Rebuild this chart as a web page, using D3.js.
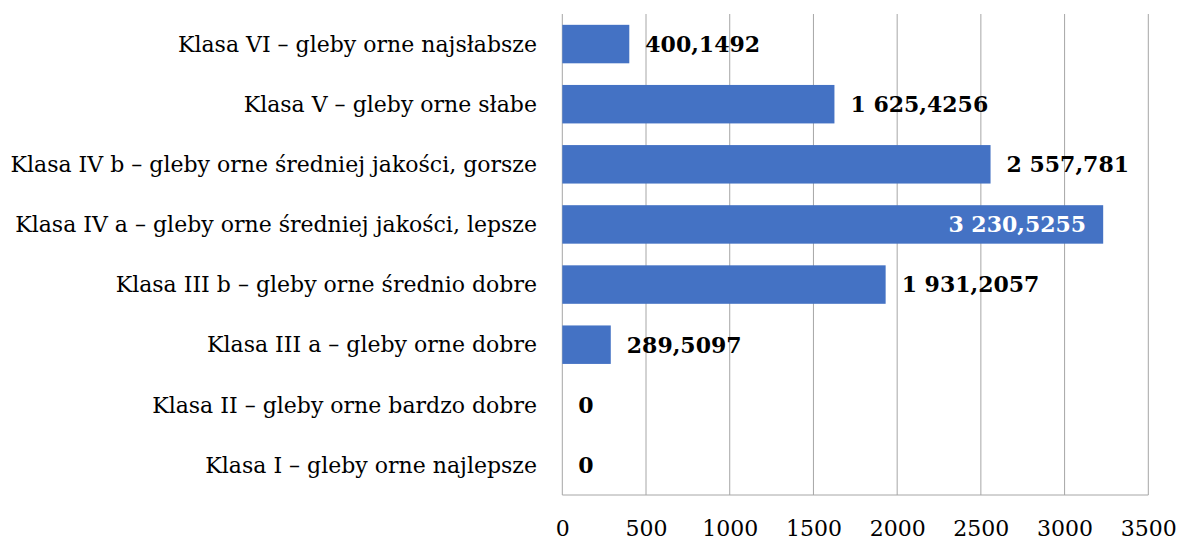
<!DOCTYPE html>
<html lang="pl">
<head>
  <meta charset="UTF-8">
  <title>Klasy gleb ornych</title>
  <script src="https://d3js.org/d3.v7.min.js"></script>
  <style>
    body { margin: 0; background: #fff; }
    text { font-family: "DejaVu Serif", serif; }
  </style>
</head>
<body>
  <svg width="1180" height="541"></svg>

  <script>
    // Klasy bonitacyjne (od góry do dołu, jak na wykresie)
    const categories = [
      "Klasa VI – gleby orne najsłabsze",
      "Klasa V – gleby orne słabe",
      "Klasa IV b – gleby orne średniej jakości, gorsze",
      "Klasa IV a – gleby orne średniej jakości, lepsze",
      "Klasa III b – gleby orne średnio dobre",
      "Klasa III a – gleby orne dobre",
      "Klasa II – gleby orne bardzo dobre",
      "Klasa I – gleby orne najlepsze"
    ];
    const values = [400.1492, 1625.4256, 2557.781, 3230.5255, 1931.2057, 289.5097, 0, 0];
    const xTicks = [0, 500, 1000, 1500, 2000, 2500, 3000, 3500];

    const svg = d3.select("svg");
    const plotLeft = 562.3, plotRight = 1148.3, plotTop = 14, plotBottom = 495;

    const x = d3.scaleLinear().domain([0, 3500]).range([plotLeft, plotRight]);
    const y = d3.scaleBand().domain(categories).range([plotTop, plotBottom]).paddingInner(0.36).paddingOuter(0.18);

    const pl = d3.formatLocale({ decimal: ",", thousands: " ", grouping: [3], currency: ["", " zł"] });
    const fmt = pl.format(",.4~f");

    // siatka
    svg.append("g")
      .selectAll("line")
      .data(xTicks)
      .join("line")
        .attr("x1", d => x(d)).attr("x2", d => x(d))
        .attr("y1", plotTop).attr("y2", plotBottom)
        .attr("stroke", "#a6a6a6")
        .attr("stroke-width", 1);

    // oś dolna
    svg.append("line")
      .attr("x1", plotLeft).attr("x2", plotRight)
      .attr("y1", plotBottom).attr("y2", plotBottom)
      .attr("stroke", "#a6a6a6");

    // słupki
    svg.append("g")
      .selectAll("rect")
      .data(values)
      .join("rect")
        .attr("x", x(0))
        .attr("y", (d, i) => y(categories[i]))
        .attr("width", d => x(d) - x(0))
        .attr("height", y.bandwidth())
        .attr("fill", "#4472c4");

    // oś x - etykiety
    const xAxis = d3.axisBottom(x).tickValues(xTicks).tickSize(0).tickPadding(0).tickFormat(d3.format("d"));
    const gx = svg.append("g").attr("transform", `translate(0,${plotBottom})`).call(xAxis);
    gx.select(".domain").remove();
    gx.selectAll("text")
      .attr("y", 0).attr("dy", 0)
      .attr("transform", "translate(0,41)")
      .attr("font-size", 22)
      .attr("fill", "#000")
      .style("font-family", "'DejaVu Serif', serif");

    // etykiety kategorii
    const yAxis = d3.axisLeft(y).tickSize(0).tickPadding(0);
    const gy = svg.append("g").attr("transform", `translate(537,0)`).call(yAxis);
    gy.select(".domain").remove();
    const catText = gy.selectAll("text")
      .attr("x", 0)
      .attr("dy", "0.35em")
      .attr("font-size", 20)
      .attr("fill", "#000")
      .style("font-family", "'DejaVu Serif', serif");
    // dopasuj rozmiar do szerokości najdłuższej etykiety (~527 px)
    const maxW = d3.max(catText.nodes(), n => n.getComputedTextLength());
    catText.attr("font-size", 20 * 527 / maxW);

    // etykiety wartości
    svg.append("g")
      .selectAll("text")
      .data(values)
      .join("text")
        .attr("x", d => d > 3000 ? x(d) - 17 : x(d) + 16)
        .attr("y", (d, i) => y(categories[i]) + y.bandwidth() / 2)
        .attr("dy", "0.36em")
        .attr("text-anchor", d => d > 3000 ? "end" : "start")
        .attr("font-size", 22)
        .attr("font-weight", "bold")
        .attr("fill", d => d > 3000 ? "#fff" : "#000")
        .text(d => fmt(d));
  </script>
</body>
</html>
